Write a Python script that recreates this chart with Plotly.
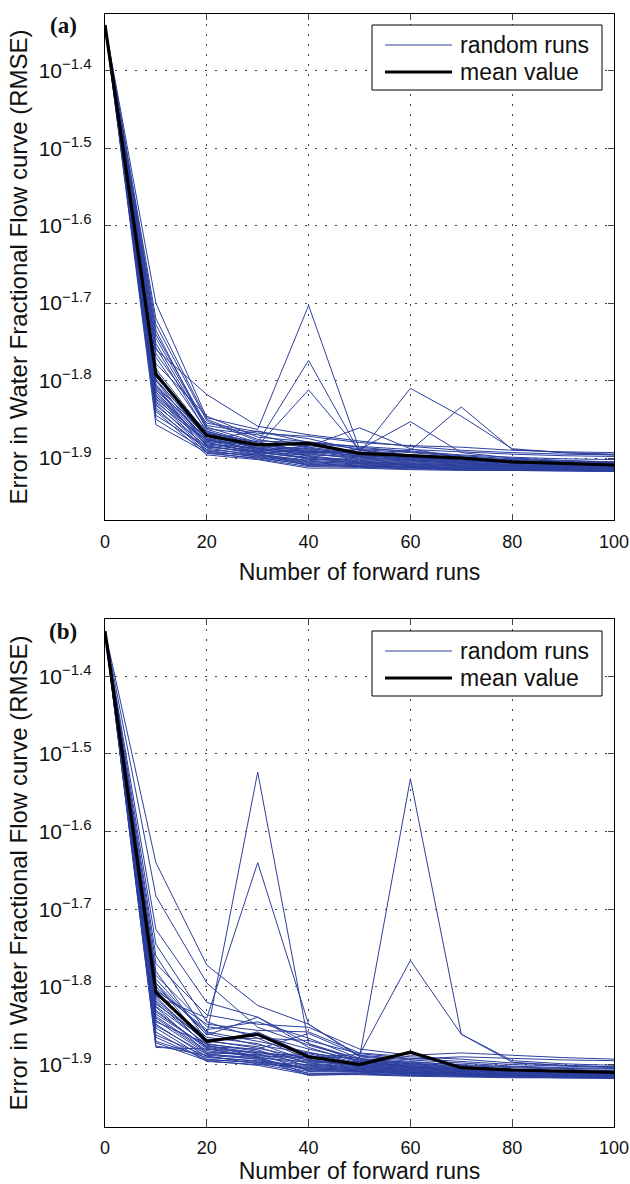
import plotly.graph_objects as go

# ---------------- data (log10 of RMSE) ----------------
forward_runs = [0, 10, 20, 30, 40, 50, 60, 70, 80, 90, 100]

start_log10_a = -1.341
start_log10_b = -1.342

# panel (a): each run lists log10(RMSE) at 10, 20, ..., 100 forward runs
runs_a = [
    [-1.700, -1.848, -1.863, -1.703, -1.889, -1.900, -1.905, -1.908, -1.910, -1.911],
    [-1.745, -1.860, -1.880, -1.774, -1.892, -1.898, -1.903, -1.906, -1.908, -1.909],
    [-1.770, -1.865, -1.884, -1.812, -1.890, -1.897, -1.901, -1.905, -1.907, -1.908],
    [-1.800, -1.870, -1.888, -1.892, -1.893, -1.810, -1.846, -1.888, -1.893, -1.896],
    [-1.810, -1.875, -1.890, -1.893, -1.889, -1.853, -1.893, -1.900, -1.903, -1.905],
    [-1.820, -1.880, -1.892, -1.896, -1.898, -1.890, -1.834, -1.889, -1.893, -1.895],
    [-1.815, -1.878, -1.890, -1.885, -1.861, -1.888, -1.900, -1.904, -1.906, -1.907],
    [-1.760, -1.818, -1.859, -1.870, -1.878, -1.885, -1.890, -1.893, -1.895, -1.896],
    [-1.795, -1.866, -1.881, -1.884, -1.893, -1.896, -1.899, -1.902, -1.904, -1.905],
    [-1.805, -1.872, -1.886, -1.890, -1.897, -1.900, -1.903, -1.906, -1.908, -1.909],
    [-1.812, -1.876, -1.889, -1.895, -1.900, -1.903, -1.906, -1.909, -1.910, -1.911],
    [-1.818, -1.880, -1.893, -1.899, -1.903, -1.906, -1.909, -1.911, -1.912, -1.913],
    [-1.822, -1.884, -1.895, -1.903, -1.906, -1.909, -1.911, -1.913, -1.914, -1.915],
    [-1.826, -1.887, -1.897, -1.906, -1.909, -1.911, -1.913, -1.914, -1.915, -1.916],
    [-1.830, -1.890, -1.899, -1.909, -1.911, -1.913, -1.914, -1.915, -1.916, -1.917],
    [-1.835, -1.893, -1.901, -1.911, -1.912, -1.914, -1.915, -1.916, -1.916, -1.917],
    [-1.857, -1.893, -1.896, -1.905, -1.907, -1.909, -1.910, -1.911, -1.912, -1.913],
    [-1.840, -1.896, -1.902, -1.913, -1.913, -1.915, -1.916, -1.916, -1.917, -1.917],
    [-1.728, -1.852, -1.878, -1.880, -1.885, -1.889, -1.892, -1.895, -1.897, -1.898],
    [-1.740, -1.858, -1.868, -1.872, -1.880, -1.884, -1.886, -1.890, -1.892, -1.893],
    [-1.752, -1.862, -1.870, -1.886, -1.894, -1.899, -1.903, -1.906, -1.908, -1.910],
    [-1.765, -1.855, -1.866, -1.875, -1.890, -1.896, -1.901, -1.905, -1.907, -1.909],
    [-1.778, -1.846, -1.873, -1.879, -1.886, -1.892, -1.897, -1.901, -1.904, -1.906],
    [-1.785, -1.869, -1.883, -1.898, -1.905, -1.908, -1.910, -1.912, -1.913, -1.914],
    [-1.798, -1.874, -1.887, -1.902, -1.901, -1.904, -1.907, -1.910, -1.911, -1.912],
    [-1.808, -1.868, -1.879, -1.892, -1.899, -1.902, -1.906, -1.909, -1.911, -1.912],
    [-1.815, -1.883, -1.891, -1.897, -1.904, -1.907, -1.909, -1.911, -1.913, -1.914],
    [-1.824, -1.877, -1.884, -1.888, -1.895, -1.901, -1.904, -1.907, -1.909, -1.910],
    [-1.832, -1.885, -1.893, -1.900, -1.907, -1.910, -1.912, -1.913, -1.914, -1.915],
    [-1.838, -1.889, -1.895, -1.904, -1.908, -1.911, -1.913, -1.915, -1.915, -1.916],
    [-1.845, -1.886, -1.892, -1.901, -1.905, -1.908, -1.911, -1.913, -1.914, -1.915],
    [-1.850, -1.891, -1.898, -1.907, -1.910, -1.912, -1.914, -1.915, -1.916, -1.917],
    [-1.788, -1.877, -1.865, -1.880, -1.888, -1.891, -1.896, -1.899, -1.901, -1.902],
    [-1.800, -1.882, -1.887, -1.894, -1.889, -1.893, -1.898, -1.903, -1.905, -1.906],
    [-1.720, -1.850, -1.876, -1.887, -1.896, -1.902, -1.906, -1.909, -1.911, -1.912],
    [-1.735, -1.863, -1.882, -1.893, -1.902, -1.905, -1.908, -1.910, -1.912, -1.913],
    [-1.757, -1.867, -1.888, -1.891, -1.897, -1.900, -1.904, -1.907, -1.909, -1.911],
    [-1.805, -1.894, -1.900, -1.908, -1.911, -1.913, -1.915, -1.916, -1.916, -1.917],
    [-1.828, -1.879, -1.883, -1.889, -1.898, -1.903, -1.907, -1.910, -1.912, -1.913],
    [-1.812, -1.871, -1.894, -1.910, -1.910, -1.912, -1.913, -1.914, -1.915, -1.916],
]
mean_a = [-1.341, -1.792, -1.871, -1.883, -1.881, -1.894, -1.897, -1.900, -1.905, -1.907, -1.909]

# panel (b)
runs_b = [
    [-1.795, -1.862, -1.5235, -1.873, -1.893, -1.897, -1.900, -1.903, -1.905, -1.906],
    [-1.812, -1.840, -1.640, -1.848, -1.889, -1.894, -1.898, -1.902, -1.904, -1.905],
    [-1.830, -1.880, -1.889, -1.891, -1.891, -1.532, -1.861, -1.897, -1.901, -1.903],
    [-1.820, -1.876, -1.885, -1.890, -1.887, -1.766, -1.861, -1.895, -1.899, -1.901],
    [-1.640, -1.772, -1.824, -1.848, -1.890, -1.896, -1.901, -1.904, -1.906, -1.908],
    [-1.683, -1.795, -1.852, -1.875, -1.893, -1.899, -1.903, -1.906, -1.908, -1.909],
    [-1.726, -1.820, -1.839, -1.873, -1.896, -1.902, -1.905, -1.908, -1.909, -1.910],
    [-1.745, -1.845, -1.866, -1.869, -1.886, -1.892, -1.896, -1.900, -1.902, -1.904],
    [-1.770, -1.836, -1.848, -1.852, -1.880, -1.888, -1.885, -1.888, -1.891, -1.893],
    [-1.785, -1.851, -1.862, -1.880, -1.895, -1.900, -1.904, -1.907, -1.909, -1.911],
    [-1.800, -1.858, -1.870, -1.884, -1.898, -1.903, -1.906, -1.909, -1.911, -1.912],
    [-1.810, -1.865, -1.873, -1.895, -1.901, -1.906, -1.909, -1.911, -1.913, -1.914],
    [-1.818, -1.870, -1.877, -1.899, -1.904, -1.908, -1.911, -1.913, -1.914, -1.915],
    [-1.825, -1.874, -1.881, -1.903, -1.907, -1.910, -1.912, -1.914, -1.915, -1.916],
    [-1.832, -1.878, -1.886, -1.908, -1.909, -1.912, -1.913, -1.915, -1.916, -1.917],
    [-1.838, -1.882, -1.890, -1.912, -1.911, -1.913, -1.914, -1.915, -1.916, -1.917],
    [-1.843, -1.886, -1.893, -1.914, -1.912, -1.914, -1.915, -1.916, -1.917, -1.917],
    [-1.848, -1.890, -1.896, -1.909, -1.910, -1.912, -1.914, -1.915, -1.916, -1.917],
    [-1.853, -1.893, -1.898, -1.905, -1.908, -1.911, -1.913, -1.914, -1.915, -1.916],
    [-1.858, -1.896, -1.900, -1.902, -1.906, -1.910, -1.912, -1.913, -1.914, -1.915],
    [-1.865, -1.894, -1.897, -1.900, -1.905, -1.909, -1.911, -1.912, -1.913, -1.914],
    [-1.870, -1.891, -1.895, -1.904, -1.907, -1.910, -1.912, -1.913, -1.914, -1.915],
    [-1.876, -1.888, -1.893, -1.907, -1.909, -1.911, -1.913, -1.914, -1.915, -1.916],
    [-1.878, -1.880, -1.884, -1.896, -1.902, -1.906, -1.909, -1.911, -1.912, -1.913],
    [-1.790, -1.862, -1.839, -1.878, -1.897, -1.902, -1.906, -1.909, -1.911, -1.912],
    [-1.803, -1.855, -1.845, -1.866, -1.892, -1.898, -1.902, -1.906, -1.908, -1.909],
    [-1.815, -1.872, -1.858, -1.888, -1.900, -1.904, -1.907, -1.910, -1.911, -1.912],
    [-1.822, -1.868, -1.866, -1.893, -1.903, -1.907, -1.910, -1.912, -1.913, -1.914],
    [-1.835, -1.877, -1.880, -1.860, -1.888, -1.893, -1.890, -1.892, -1.894, -1.895],
    [-1.840, -1.884, -1.888, -1.886, -1.899, -1.904, -1.908, -1.910, -1.912, -1.913],
    [-1.850, -1.887, -1.891, -1.897, -1.896, -1.901, -1.905, -1.908, -1.910, -1.911],
    [-1.805, -1.848, -1.856, -1.858, -1.885, -1.890, -1.893, -1.898, -1.901, -1.903],
    [-1.780, -1.869, -1.879, -1.892, -1.898, -1.903, -1.907, -1.910, -1.912, -1.913],
    [-1.760, -1.860, -1.875, -1.885, -1.894, -1.899, -1.903, -1.907, -1.909, -1.910],
    [-1.795, -1.875, -1.890, -1.901, -1.905, -1.908, -1.911, -1.913, -1.914, -1.915],
    [-1.812, -1.879, -1.892, -1.906, -1.908, -1.910, -1.912, -1.913, -1.914, -1.915],
    [-1.826, -1.885, -1.887, -1.898, -1.903, -1.907, -1.910, -1.912, -1.913, -1.914],
    [-1.845, -1.873, -1.883, -1.894, -1.901, -1.905, -1.908, -1.910, -1.912, -1.913],
    [-1.862, -1.889, -1.899, -1.911, -1.912, -1.914, -1.915, -1.916, -1.917, -1.917],
    [-1.872, -1.895, -1.901, -1.913, -1.913, -1.915, -1.916, -1.917, -1.917, -1.918],
]
mean_b = [-1.342, -1.807, -1.870, -1.861, -1.890, -1.900, -1.884, -1.904, -1.907, -1.909, -1.910]

y_tick_exponents = [-1.4, -1.5, -1.6, -1.7, -1.8, -1.9]
y_tick_exponent_text = ["\u22121.4", "\u22121.5", "\u22121.6", "\u22121.7", "\u22121.8", "\u22121.9"]
x_ticks = [0, 20, 40, 60, 80, 100]

panel_labels = ["(a)", "(b)"]
legend_names = ["random runs", "mean value"]
x_title = "Number of forward runs"
y_title = "Error in Water Fractional Flow curve (RMSE)"

# ---------------- figure ----------------
W, H = 630, 1184
BLUE = "#2c3f9e"
TXT = "#111"
SANS = "Liberation Sans, Arial, Helvetica, sans-serif"


def px_x(p):
    return p / W


def px_y(p):
    return 1 - p / H


y_tick_labels = ['10<sup><span style="font-size:15px">%s</span></sup>' % t
                 for t in y_tick_exponent_text]

fig = go.Figure()

panels = [
    (start_log10_a, runs_a, mean_a, "x", "y"),
    (start_log10_b, runs_b, mean_b, "x2", "y2"),
]
for start, runs, mean, xa, ya in panels:
    xs, ys = [], []
    for run in runs:
        vals = [start] + run
        xs += forward_runs + [None]
        ys += [10 ** v for v in vals] + [None]
    fig.add_trace(go.Scatter(x=xs, y=ys, mode="lines", name=legend_names[0],
                             line=dict(color=BLUE, width=1), xaxis=xa, yaxis=ya,
                             showlegend=False, connectgaps=False))
    fig.add_trace(go.Scatter(x=forward_runs, y=[10 ** v for v in mean], mode="lines",
                             name=legend_names[1], line=dict(color="black", width=3.2),
                             xaxis=xa, yaxis=ya, showlegend=False))

x_dom = [105 / W, 614 / W]
dom_a = [px_y(520), px_y(14)]
dom_b = [px_y(1126.7), px_y(619.3)]
y_range = [-1.980, -1.3267]

common_x = dict(range=[0, 100], tickvals=x_ticks, ticks="inside", ticklen=6,
                showline=True, linecolor="black", linewidth=1.3, mirror="ticks",
                showgrid=True, gridcolor="#444", gridwidth=1, griddash="2px,8px",
                zeroline=False, tickfont=dict(family=SANS, size=18, color=TXT),
                ticklabelstandoff=5, domain=x_dom, automargin=False,
                title=dict(text=x_title, font=dict(family=SANS, size=23, color=TXT),
                           standoff=13))
common_y = dict(type="log", range=y_range,
                tickvals=[10 ** e for e in y_tick_exponents], ticktext=y_tick_labels,
                ticks="inside", ticklen=6, showline=True, linecolor="black",
                linewidth=1.3, mirror="ticks", showgrid=True, gridcolor="#444",
                gridwidth=1, griddash="2px,8px", zeroline=False, automargin=False,
                tickfont=dict(family=SANS, size=21, color=TXT), ticklabelstandoff=8,
                title=dict(text=y_title, font=dict(family=SANS, size=24, color=TXT),
                           standoff=4))

fig.update_layout(
    width=W, height=H, margin=dict(l=0, r=0, t=0, b=0),
    paper_bgcolor="white", plot_bgcolor="white", showlegend=False,
    xaxis=dict(**common_x, anchor="y"),
    yaxis=dict(**common_y, domain=dom_a, anchor="x"),
    xaxis2=dict(**common_x, anchor="y2"),
    yaxis2=dict(**common_y, domain=dom_b, anchor="x2"),
)

# legends drawn as boxed keys (one per panel)
for label, top in zip(panel_labels, [25, 631]):
    fig.add_shape(type="rect", xref="paper", yref="paper",
                  x0=px_x(372), x1=px_x(602), y0=px_y(top + 65), y1=px_y(top),
                  fillcolor="white", line=dict(color="black", width=1), layer="above")
    for name, dy, col, wd in [(legend_names[0], 20, BLUE, 1),
                              (legend_names[1], 47, "black", 3.2)]:
        fig.add_shape(type="line", xref="paper", yref="paper",
                      x0=px_x(385), x1=px_x(452), y0=px_y(top + dy), y1=px_y(top + dy),
                      line=dict(color=col, width=wd), layer="above")
        fig.add_annotation(text=name, xref="paper", yref="paper", x=px_x(458),
                           y=px_y(top + dy), xanchor="left", yanchor="middle",
                           showarrow=False, font=dict(family=SANS, size=23, color=TXT))
    fig.add_annotation(text="<b>" + label + "</b>", xref="paper", yref="paper",
                       x=px_x(63), y=px_y(top), xanchor="center", yanchor="middle",
                       showarrow=False,
                       font=dict(family="Liberation Serif, Times New Roman, serif",
                                 size=23, color=TXT))

fig.write_html("out.html")
